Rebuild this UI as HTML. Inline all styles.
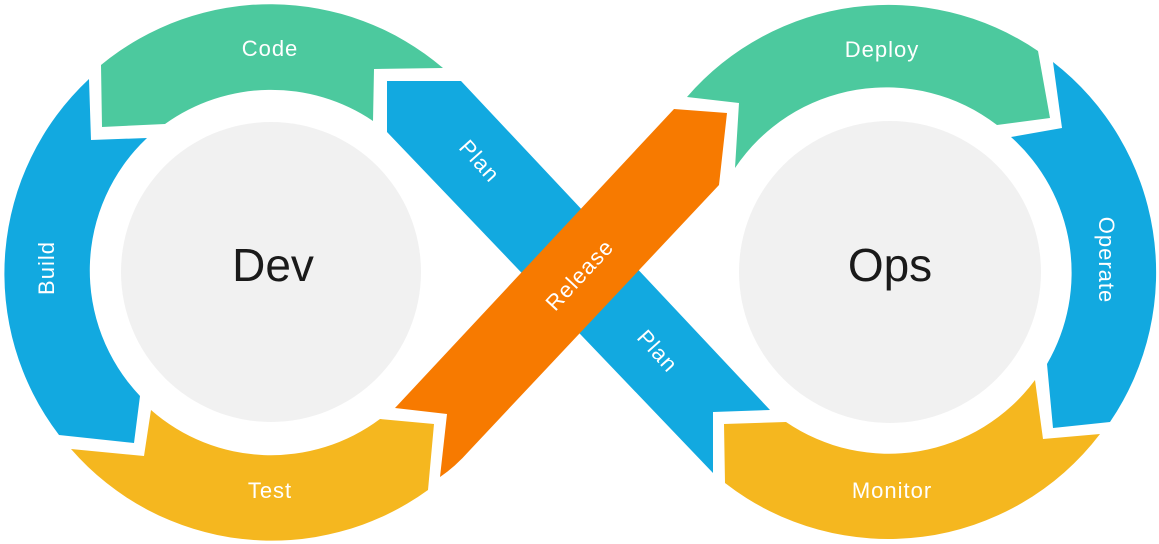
<!DOCTYPE html>
<html><head><meta charset="utf-8"><style>
html,body{margin:0;padding:0;background:#fff;}
svg{display:block;}
text{font-family:"Liberation Sans",sans-serif;}
</style></head><body>
<svg width="1159" height="544" viewBox="0 0 1159 544" xmlns="http://www.w3.org/2000/svg">
<circle cx="271" cy="272" r="150" fill="#f1f1f1"/>
<path d="M101,65 A266,266 0 0 1 443,68 L374,69 L373,121 A182,182 0 0 0 165,124 L102,127 Z" fill="#4cc99e"/>
<path d="M89,79 A266,266 0 0 0 59,435 L134,443 L140,396 A182,182 0 0 1 147,138 L91,140 Z" fill="#12a9e0"/>
<path d="M71,449 L144,456 L151,410 A182,182 0 0 0 380,419 L434,424 L428,490 A266,266 0 0 1 71,449 Z" fill="#f5b71f"/>
<circle cx="890" cy="272" r="151" fill="#f1f1f1"/>
<path d="M687,97 L739,103 L735,168 A182,182 0 0 1 997,125 L1050,118 L1038,51 A266,266 0 0 0 687,97 Z" fill="#4cc99e"/>
<path d="M1053,62 A266,266 0 0 1 1110,422 L1053,428 L1047,364 A182,182 0 0 0 1011,137 L1062,128 Z" fill="#12a9e0"/>
<path d="M724,424 L786,422 A182,182 0 0 0 1035,380 L1043,439 L1100,434 A266,266 0 0 1 725,483 Z" fill="#f5b71f"/>
<path d="M387,81 L461,81 L770,410 L713,412 L713,473 L387,132 Z" fill="#12a9e0"/>
<path d="M395,408 L447,414 L440,477 Q455,467 470,450 L719,185 L727,113 L674,109 Z" fill="#f77a00"/>
<g fill="#fff" font-size="22" letter-spacing="1" text-anchor="middle">
<text x="270" y="56">Code</text>
<text x="882" y="57">Deploy</text>
<text x="270" y="498">Test</text>
<text x="892" y="498">Monitor</text>
<text transform="translate(54,268) rotate(-90)">Build</text>
<text transform="translate(1099,260) rotate(90)">Operate</text>
<text transform="translate(474,166) rotate(48)">Plan</text>
<text transform="translate(652,356) rotate(48)">Plan</text>
<text transform="translate(585,280) rotate(-47)">Release</text>
</g>
<g fill="#1a1a1a" font-size="46" text-anchor="middle">
<text x="273" y="281">Dev</text>
<text x="890" y="281">Ops</text>
</g>
</svg>
</body></html>
